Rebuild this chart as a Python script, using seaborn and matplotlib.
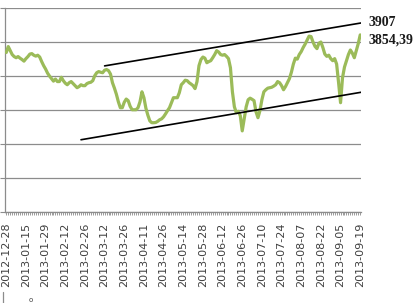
import matplotlib
matplotlib.use("Agg")
import matplotlib.pyplot as plt
from matplotlib.lines import Line2D
import seaborn as sns
import numpy as np
import pandas as pd

# ---- data ----
tick_labels = ["2012-12-28", "2013-01-15", "2013-01-29", "2013-02-12", "2013-02-26",
               "2013-03-12", "2013-03-26", "2013-04-11", "2013-04-26", "2013-05-14",
               "2013-05-28", "2013-06-12", "2013-06-26", "2013-07-10", "2013-07-24",
               "2013-08-07", "2013-08-22", "2013-09-05", "2013-09-19"]

values = [3777, 3803, 3785, 3768, 3759, 3754, 3759, 3752, 3746, 3739,
          3750, 3759, 3770, 3772, 3765, 3761, 3765, 3757, 3737, 3719,
          3704, 3686, 3673, 3662, 3651, 3660, 3649, 3649, 3668, 3653,
          3642, 3635, 3644, 3649, 3640, 3631, 3622, 3627, 3635, 3631,
          3631, 3640, 3644, 3646, 3653, 3675, 3688, 3693, 3690, 3688,
          3699, 3702, 3697, 3682, 3644, 3620, 3593, 3560, 3534, 3534,
          3558, 3572, 3565, 3540, 3525, 3525, 3525, 3534, 3560, 3604,
          3578, 3532, 3501, 3476, 3468, 3468, 3469, 3474, 3481, 3485,
          3494, 3507, 3521, 3534, 3556, 3578, 3578, 3578, 3600, 3635,
          3644, 3655, 3653, 3644, 3638, 3631, 3618, 3649, 3719, 3746,
          3757, 3752, 3732, 3737, 3741, 3754, 3768, 3785, 3779, 3768,
          3765, 3768, 3760, 3750, 3710, 3604, 3538, 3512, 3518, 3499,
          3432, 3485, 3538, 3569, 3576, 3571, 3565, 3516, 3490, 3521,
          3569, 3604, 3613, 3620, 3622, 3624, 3629, 3635, 3649, 3644,
          3631, 3613, 3627, 3644, 3662, 3690, 3726, 3752, 3748, 3768,
          3781, 3799, 3814, 3832, 3849, 3847, 3823, 3804, 3794, 3818,
          3823, 3799, 3770, 3760, 3765, 3750, 3741, 3750, 3726, 3644,
          3556, 3666, 3713, 3741, 3768, 3788, 3774, 3754, 3785, 3816,
          3854.39]

upper_channel_x = [50, 180.5]
upper_channel_y = [3718, 3907]
lower_channel_x = [38, 180.5]
lower_channel_y = [3393, 3602]

end_labels = ["3907", "3854,39"]

y_min, y_max, y_step = 3075, 3975, 150

# ---- figure ----
sns.set_style("white")
fig = plt.figure(figsize=(4.2, 3.03), dpi=100)
ax = fig.add_axes([5.3 / 420, 1 - 212 / 303, (361.2 - 5.3) / 420, (212 - 7.5) / 303])

df = pd.DataFrame({"day": np.arange(len(values)), "value": values})
sns.lineplot(data=df, x="day", y="value", ax=ax, color="#9BBB59", linewidth=2.3,
             zorder=3, solid_capstyle="round", solid_joinstyle="round")

ax.plot(upper_channel_x, upper_channel_y, color="black", linewidth=1.2, zorder=4)
ax.plot(lower_channel_x, lower_channel_y, color="black", linewidth=1.2, zorder=4)

ax.set_xlim(-0.5, len(values) - 0.5)
ax.set_ylim(y_min, y_max)
ax.set_yticks(np.arange(y_min, y_max + 1, y_step))
ax.set_yticklabels([])
ax.yaxis.grid(True, color="#8c8c8c", linewidth=0.9)
ax.set_axisbelow(True)

ax.set_xticks(np.arange(0, len(values), 10))
ax.set_xticklabels(tick_labels, rotation=90, fontsize=8, color="#404040",
                   family="DejaVu Sans")
ax.set_xticks(np.arange(0, len(values), 1), minor=True)
ax.tick_params(axis="x", which="both", direction="out", length=2.5, width=0.6,
               color="#8c8c8c", pad=5, bottom=True)
ax.tick_params(axis="y", which="major", direction="out", length=3.5, width=0.8,
               color="#8c8c8c", left=True)
ax.set_xlabel("")
ax.set_ylabel("")

for side in ["top", "right"]:
    ax.spines[side].set_visible(False)
for side in ["left", "bottom"]:
    ax.spines[side].set_color("#8c8c8c")
    ax.spines[side].set_linewidth(0.9)

# end-of-line value labels
ax.annotate(end_labels[0], xy=(upper_channel_x[1], upper_channel_y[1]),
            xytext=(5, 0), textcoords="offset points", va="center", ha="left",
            fontsize=10, fontweight="bold", family="Liberation Serif",
            color="#1a1a1a", annotation_clip=False)
ax.annotate(end_labels[1], xy=(upper_channel_x[1], values[-1]),
            xytext=(5, -4), textcoords="offset points", va="center", ha="left",
            fontsize=10, fontweight="bold", family="Liberation Serif",
            color="#1a1a1a", annotation_clip=False)

# fragments of the element below the chart
fig.add_artist(Line2D([3 / 420, 3 / 420], [0, 11 / 303], color="#8c8c8c", linewidth=0.9))
fig.text(31 / 420, 0.5 / 303, "o", fontsize=5, color="#404040", va="bottom", ha="center")

fig.savefig("out.png", dpi=100)
